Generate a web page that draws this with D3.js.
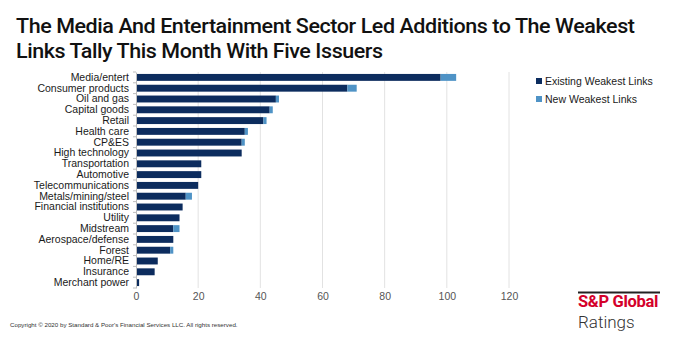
<!DOCTYPE html>
<html>
<head>
<meta charset="utf-8">
<script src="https://cdnjs.cloudflare.com/ajax/libs/d3/7.8.5/d3.min.js"></script>
<style>
  body { margin: 0; background: #fff; }
  svg { display: block; }
</style>
</head>
<body>
<svg width="679" height="340"></svg>
<script>
var sectors = ["Media/entert", "Consumer products", "Oil and gas", "Capital goods", "Retail",
  "Health care", "CP&ES", "High technology", "Transportation", "Automotive",
  "Telecommunications", "Metals/mining/steel", "Financial institutions", "Utility",
  "Midstream", "Aerospace/defense", "Forest", "Home/RE", "Insurance", "Merchant power"];
var existing = [98, 68, 45, 43, 41, 35, 34, 34, 21, 21, 20, 16, 15, 14, 12, 12, 11, 7, 6, 1];
var added    = [5, 3, 1, 1, 1, 1, 1, 0, 0, 0, 0, 2, 0, 0, 2, 0, 1, 0, 0, 0];
var xTicks = [0, 20, 40, 60, 80, 100, 120];
var seriesNames = ["Existing Weakest Links", "New Weakest Links"];
var colors = ["#0c2c5e", "#4f93c6"];

var svg = d3.select("svg");
var font = "'Liberation Sans', Arial, sans-serif";

// title, squeezed to its line width
var titleLines = ["The Media And Entertainment Sector Led Additions to The Weakest",
  "Links Tally This Month With Five Issuers"];
var title = svg.append("g");
titleLines.forEach(function (t, i) {
  title.append("text")
    .attr("x", 16).attr("y", 33 + i * 25)
    .attr("font-family", "Roboto, sans-serif")
    .attr("font-weight", 500)
    .attr("font-size", 20)
    .attr("letter-spacing", -0.4)
    .attr("fill", "#111")
    .text(t);
});
var first = title.select("text").node();
var w = first.getComputedTextLength();
title.selectAll("text").attr("transform", "translate(16,0) scale(" + (619 / w) + ",1) translate(-16,0)");

var x = d3.scaleLinear().domain([0, 120]).range([136, 509]);
var y = d3.scaleBand().domain(sectors).range([72, 288]).paddingInner(0.36).paddingOuter(0.18);

// gridlines
svg.append("g").selectAll("line")
  .data(xTicks.slice(1))
  .join("line")
  .attr("x1", function (d) { return x(d); })
  .attr("x2", function (d) { return x(d); })
  .attr("y1", 72).attr("y2", 288)
  .attr("stroke", "#e2e2e2").attr("stroke-width", 1);

var rows = sectors.map(function (s, i) {
  return { name: s, existing: existing[i], added: added[i] };
});
var stacked = d3.stack().keys(["existing", "added"])(rows);

svg.append("g").selectAll("g")
  .data(stacked)
  .join("g")
  .attr("fill", function (d, i) { return colors[i]; })
  .selectAll("rect")
  .data(function (d) { return d; })
  .join("rect")
  .attr("x", function (d) { return x(d[0]); })
  .attr("width", function (d) { return x(d[1]) - x(d[0]); })
  .attr("y", function (d) { return y(d.data.name); })
  .attr("height", y.bandwidth());

// category axis
var yAxis = svg.append("g")
  .attr("transform", "translate(136,0)")
  .call(d3.axisLeft(y).tickSize(0).tickPadding(7));
yAxis.select(".domain").attr("stroke", "#bdbdbd");
yAxis.selectAll("text")
  .attr("font-family", font).attr("font-size", 10.5).attr("fill", "#1a1a1a");

// small ticks between categories
svg.append("g").selectAll("line")
  .data(d3.range(sectors.length + 1))
  .join("line")
  .attr("x1", 133).attr("x2", 136)
  .attr("y1", function (i) { return 72 + i * (216 / sectors.length); })
  .attr("y2", function (i) { return 72 + i * (216 / sectors.length); })
  .attr("stroke", "#bdbdbd");

// value axis labels
var xAxis = svg.append("g")
  .attr("transform", "translate(0,288)")
  .call(d3.axisBottom(x).tickValues(xTicks).tickSize(0).tickPadding(5));
xAxis.select(".domain").remove();
xAxis.selectAll("text")
  .attr("font-family", font).attr("font-size", 10.5).attr("fill", "#555");

// legend
var legend = svg.append("g").selectAll("g")
  .data(seriesNames)
  .join("g")
  .attr("transform", function (d, i) { return "translate(536," + (81 + i * 18) + ")"; });
legend.append("rect")
  .attr("x", 0).attr("y", -3).attr("width", 6).attr("height", 6)
  .attr("fill", function (d, i) { return colors[i]; });
legend.append("text")
  .attr("x", 9).attr("y", 4)
  .attr("font-family", font).attr("font-size", 10.5).attr("fill", "#1a1a1a")
  .text(function (d) { return d; });

// footer
svg.append("text")
  .attr("x", 10).attr("y", 327)
  .attr("font-family", font).attr("font-size", 6.2).attr("fill", "#333")
  .text("Copyright \u00a9 2020 by Standard & Poor's Financial Services LLC. All rights reserved.");

svg.append("line")
  .attr("x1", 578).attr("x2", 660).attr("y1", 292.5).attr("y2", 292.5)
  .attr("stroke", "#222").attr("stroke-width", 2);
svg.append("text")
  .attr("x", 578).attr("y", 307)
  .attr("font-family", "Roboto, sans-serif").attr("font-weight", 700)
  .attr("font-size", 16.5).attr("letter-spacing", -0.3).attr("fill", "#d4002a")
  .text("S&P Global");
svg.append("text")
  .attr("x", 578).attr("y", 328)
  .attr("font-family", "Roboto, sans-serif").attr("font-weight", 300)
  .attr("font-size", 17).attr("fill", "#333")
  .text("Ratings");
</script>
</body>
</html>
